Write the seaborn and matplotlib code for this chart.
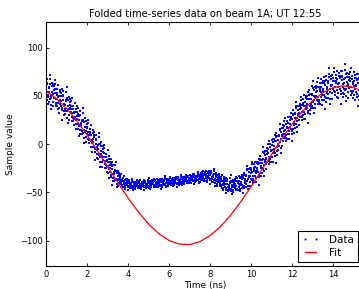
import numpy as np
import pandas as pd
import seaborn as sns
import matplotlib
matplotlib.use('Agg')
import matplotlib.pyplot as plt
from matplotlib.lines import Line2D

title = 'Folded time-series data on beam 1A; UT 12:55'
xticks = [0, 2, 4, 6, 8, 10, 12, 14]
yticks = [-100, -50, 0, 50, 100]

# fit curve, read every 0.5 ns
fit_t = [0.0, 0.5, 1.0, 1.5, 2.0, 2.5, 3.0, 3.5, 4.0, 4.5, 5.0, 5.5, 6.0, 6.5, 7.0, 7.5,
         8.0, 8.5, 9.0, 9.5, 10.0, 10.5, 11.0, 11.5, 12.0, 12.5, 13.0, 13.5, 14.0, 14.5,
         15.0, 15.5, 16.0]
fit_y = [54.8, 47.2, 36.7, 23.9, 9.1, -7.0, -23.7, -40.3, -56.1, -70.6, -83.0, -92.9,
         -99.9, -103.6, -104.0, -100.9, -94.5, -85.3, -73.3, -59.2, -43.6, -27.0, -10.2,
         6.0, 21.1, 34.3, 45.3, 53.5, 58.5, 60.3, 58.5, 53.5, 45.3]

# folded samples: one row per 0.1 ns bin, 8 folds per bin
bin_width = 0.1
fold_phase = [0.0, 0.05, 0.025, 0.075, 0.0125, 0.0625, 0.0375, 0.0875]
samples = [
    [58, 46, 67, 51, 62, 42, 63, 54],
    [49, 59, 44, 67, 54, 47, 58, 72],
    [62, 50, 41, 54, 48, 60, 36, 63],
    [51, 62, 44, 56, 39, 60, 52, 48],
    [57, 43, 53, 40, 62, 47, 66, 42],
    [40, 49, 57, 43, 53, 36, 51, 61],
    [50, 42, 37, 56, 45, 54, 32, 46],
    [45, 57, 40, 37, 53, 35, 50, 25],
    [46, 34, 55, 39, 50, 30, 51, 42],
    [36, 46, 31, 54, 41, 34, 45, 59],
    [48, 36, 27, 40, 34, 46, 22, 49],
    [36, 47, 30, 41, 25, 44, 37, 33],
    [40, 28, 36, 24, 45, 32, 48, 27],
    [24, 32, 39, 26, 36, 20, 33, 43],
    [33, 25, 21, 39, 28, 36, 16, 29],
    [26, 37, 21, 19, 33, 16, 31, 8],
    [25, 15, 34, 19, 29, 11, 30, 22],
    [15, 25, 10, 32, 20, 14, 24, 37],
    [25, 15, 6, 18, 12, 23, 1, 27],
    [13, 24, 7, 18, 2, 21, 14, 10],
    [17, 5, 13, 1, 22, 9, 25, 4],
    [1, 9, 16, 3, 13, -3, 10, 20],
    [9, 1, -3, 15, 4, 12, -8, 5],
    [2, 13, -3, -5, 9, -8, 7, -16],
    [0, -10, 9, -6, 4, -14, 5, -3],
    [-10, 0, -15, 7, -5, -11, -1, 12],
    [0, -10, -19, -7, -13, -2, -24, 2],
    [-13, -2, -19, -8, -24, -5, -12, -16],
    [-9, -21, -13, -25, -4, -17, -1, -22],
    [-25, -17, -10, -23, -13, -29, -16, -6],
    [-18, -26, -30, -12, -23, -15, -35, -22],
    [-25, -15, -29, -32, -18, -34, -21, -42],
    [-26, -35, -19, -31, -23, -38, -22, -29],
    [-35, -27, -38, -22, -31, -36, -28, -18],
    [-28, -36, -41, -33, -37, -30, -44, -28],
    [-37, -30, -40, -34, -43, -32, -36, -38],
    [-35, -41, -37, -43, -33, -39, -31, -42],
    [-42, -38, -35, -41, -37, -44, -38, -33],
    [-38, -42, -44, -36, -40, -37, -46, -40],
    [-40, -36, -42, -43, -37, -44, -38, -47],
    [-40, -44, -37, -42, -39, -45, -39, -41],
    [-44, -40, -45, -38, -42, -44, -41, -36],
    [-39, -43, -46, -42, -44, -40, -47, -39],
    [-42, -39, -44, -41, -46, -40, -42, -43],
    [-40, -44, -41, -45, -38, -43, -37, -44],
    [-43, -41, -38, -43, -39, -45, -40, -37],
    [-41, -43, -45, -39, -42, -40, -46, -42],
    [-41, -37, -43, -43, -39, -44, -39, -47],
    [-40, -44, -38, -42, -39, -45, -39, -41],
    [-43, -39, -44, -37, -41, -43, -40, -35],
    [-38, -42, -45, -41, -43, -39, -46, -38],
    [-40, -37, -42, -39, -44, -38, -40, -41],
    [-39, -43, -40, -44, -37, -42, -36, -43],
    [-42, -40, -37, -42, -38, -44, -39, -36],
    [-39, -41, -43, -37, -40, -38, -44, -40],
    [-40, -36, -42, -42, -38, -43, -38, -46],
    [-39, -43, -36, -41, -38, -44, -38, -40],
    [-41, -37, -42, -35, -39, -41, -38, -33],
    [-36, -40, -43, -39, -41, -37, -44, -36],
    [-39, -36, -41, -38, -43, -37, -39, -40],
    [-37, -41, -38, -42, -35, -40, -34, -41],
    [-41, -39, -36, -41, -37, -43, -38, -35],
    [-37, -39, -41, -35, -38, -36, -42, -38],
    [-38, -34, -40, -40, -36, -41, -36, -44],
    [-37, -41, -34, -39, -36, -42, -36, -38],
    [-40, -36, -41, -34, -38, -40, -37, -32],
    [-34, -38, -41, -37, -39, -35, -42, -34],
    [-37, -34, -39, -36, -41, -35, -37, -38],
    [-35, -39, -36, -40, -33, -38, -32, -39],
    [-38, -36, -33, -38, -34, -40, -35, -32],
    [-35, -37, -39, -33, -36, -34, -40, -36],
    [-35, -31, -37, -37, -33, -38, -33, -41],
    [-34, -38, -31, -36, -33, -39, -33, -35],
    [-37, -33, -38, -31, -35, -37, -34, -29],
    [-32, -36, -39, -35, -37, -33, -40, -32],
    [-34, -30, -37, -32, -39, -31, -34, -36],
    [-31, -37, -33, -38, -29, -35, -28, -37],
    [-36, -32, -29, -35, -31, -38, -32, -28],
    [-31, -35, -37, -29, -33, -30, -39, -33],
    [-33, -28, -35, -36, -30, -37, -31, -41],
    [-32, -37, -28, -35, -30, -39, -29, -34],
    [-36, -32, -39, -28, -34, -37, -32, -26],
    [-31, -36, -40, -34, -37, -32, -43, -30],
    [-38, -32, -41, -35, -43, -33, -37, -39],
    [-35, -41, -37, -43, -33, -39, -31, -42],
    [-43, -38, -34, -42, -36, -45, -38, -32],
    [-38, -42, -45, -34, -41, -36, -48, -40],
    [-41, -35, -44, -45, -37, -47, -38, -51],
    [-41, -47, -36, -44, -38, -49, -38, -43],
    [-45, -39, -48, -35, -42, -46, -40, -32],
    [-38, -44, -49, -42, -46, -39, -52, -37],
    [-44, -37, -47, -41, -50, -39, -43, -45],
    [-38, -46, -41, -48, -36, -43, -34, -46],
    [-46, -40, -35, -44, -38, -48, -39, -33],
    [-38, -42, -46, -34, -41, -35, -49, -40],
    [-39, -32, -42, -44, -34, -45, -36, -51],
    [-35, -43, -30, -39, -33, -45, -32, -38],
    [-40, -32, -44, -26, -36, -41, -33, -23],
    [-27, -36, -43, -33, -38, -29, -46, -26],
    [-34, -25, -39, -30, -43, -27, -33, -36],
    [-25, -37, -29, -40, -21, -33, -18, -38],
    [-36, -28, -21, -33, -25, -39, -27, -18],
    [-24, -30, -35, -18, -28, -20, -39, -27],
    [-25, -15, -29, -32, -18, -34, -21, -42],
    [-20, -30, -12, -25, -16, -33, -15, -23],
    [-25, -15, -30, -8, -20, -26, -16, -3],
    [-9, -19, -28, -16, -22, -11, -33, -7],
    [-15, -4, -21, -10, -26, -7, -14, -18],
    [-5, -17, -9, -21, 0, -13, 3, -18],
    [-15, -7, 0, -13, -3, -19, -6, 4],
    [-1, -9, -13, 5, -6, 2, -18, -5],
    [-2, 9, -7, -9, 5, -12, 3, -20],
    [3, -7, 12, -3, 7, -11, 8, 0],
    [-1, 9, -6, 16, 4, -2, 8, 21],
    [15, 5, -4, 8, 2, 13, -9, 17],
    [9, 20, 3, 14, -2, 17, 10, 6],
    [19, 7, 15, 3, 24, 11, 27, 6],
    [9, 17, 24, 11, 21, 5, 18, 28],
    [22, 14, 10, 28, 17, 25, 5, 18],
    [21, 32, 16, 14, 28, 11, 26, 3],
    [26, 16, 35, 20, 30, 12, 31, 23],
    [22, 32, 17, 39, 27, 21, 31, 44],
    [37, 27, 18, 30, 24, 35, 13, 39],
    [31, 42, 25, 36, 20, 39, 32, 28],
    [41, 29, 37, 25, 46, 33, 49, 28],
    [30, 39, 47, 33, 43, 26, 41, 51],
    [44, 36, 31, 50, 39, 48, 26, 40],
    [42, 54, 37, 34, 50, 32, 47, 22],
    [47, 35, 56, 40, 51, 31, 52, 43],
    [42, 52, 37, 60, 47, 40, 51, 65],
    [58, 46, 37, 50, 44, 56, 32, 59],
    [49, 60, 42, 54, 37, 58, 50, 46],
    [59, 45, 55, 42, 64, 49, 68, 44],
    [46, 55, 63, 49, 59, 42, 57, 67],
    [59, 51, 46, 65, 54, 63, 41, 55],
    [57, 70, 51, 49, 65, 46, 63, 36],
    [61, 48, 71, 54, 65, 44, 66, 57],
    [53, 65, 48, 73, 59, 52, 63, 79],
    [70, 57, 47, 61, 54, 67, 42, 71],
    [60, 72, 53, 65, 47, 69, 61, 57],
    [69, 55, 65, 51, 75, 59, 79, 54],
    [54, 63, 72, 56, 68, 49, 65, 76],
    [67, 59, 53, 74, 62, 71, 48, 63],
    [63, 76, 57, 55, 71, 52, 69, 42],
    [66, 53, 76, 59, 70, 49, 71, 62],
    [57, 69, 52, 77, 63, 56, 67, 83],
    [73, 60, 50, 64, 57, 70, 45, 74],
    [61, 73, 54, 66, 48, 70, 62, 58],
    [69, 55, 65, 51, 75, 59, 79, 54],
    [53, 62, 71, 55, 67, 48, 64, 75],
    [65, 57, 51, 72, 60, 69, 46, 61],
    [60, 73, 54, 52, 68, 49, 66, 39],
    [63, 50, 73, 56, 67, 46, 68, 59],
    [54, 66, 49, 74, 60, 53, 64, 80],
    [69, 56, 46, 60, 53, 66, 41, 70],
]

rows = []
for i, vals in enumerate(samples):
    for ph, v in zip(fold_phase, vals):
        rows.append((i * bin_width + ph, v))
df = pd.DataFrame(rows, columns=['time', 'value'])
fit = pd.DataFrame({'time': fit_t, 'value': fit_y})

sns.set_style('ticks')
plt.rcParams['font.family'] = ['DejaVu Sans']
plt.rcParams['text.color'] = 'black'
plt.rcParams['axes.labelcolor'] = 'black'
plt.rcParams['xtick.color'] = 'black'
plt.rcParams['ytick.color'] = 'black'
plt.rcParams['axes.edgecolor'] = 'black'

fig = plt.figure(figsize=(3.59, 2.89), dpi=100)
ax = fig.add_axes([46.3 / 359, 22.7 / 289, 317.8 / 359, 244.3 / 289])

sns.scatterplot(data=df, x='time', y='value', ax=ax, marker='s', s=3.4,
                color='b', linewidth=0, legend=False)
sns.lineplot(data=fit, x='time', y='value', ax=ax, color='r', lw=0.9,
             sort=False, estimator=None)

ax.set_xlim(0, 15.5)
ax.set_ylim(-126.5, 126.5)
ax.set_xticks(xticks)
ax.set_yticks(yticks)
ax.tick_params(direction='in', top=True, right=True, length=2.5, width=0.6,
               labelsize=6, pad=2.5)
for sp in ax.spines.values():
    sp.set_linewidth(0.8)

ax.set_title(title, fontsize=7.2, pad=3.5)
ax.set_xlabel('Time (ns)', fontsize=6.5, labelpad=1.5)
ax.set_ylabel('Sample value', fontsize=6.5, labelpad=3.5)

handles = [Line2D([], [], ls='none', marker='s', ms=1.3, mew=0, color='b'),
           Line2D([], [], color='r', lw=1)]
leg = ax.legend(handles, ['Data', 'Fit'], loc='lower right',
                bbox_to_anchor=(358 / 359, 27 / 289), bbox_transform=fig.transFigure,
                numpoints=2, fontsize=7.5, frameon=True, fancybox=False,
                edgecolor='black', framealpha=1, borderaxespad=0,
                handlelength=1.7, handletextpad=0.9, labelspacing=0.3, borderpad=0.4)
leg.get_frame().set_linewidth(0.8)

fig.savefig('out.png', dpi=100)
